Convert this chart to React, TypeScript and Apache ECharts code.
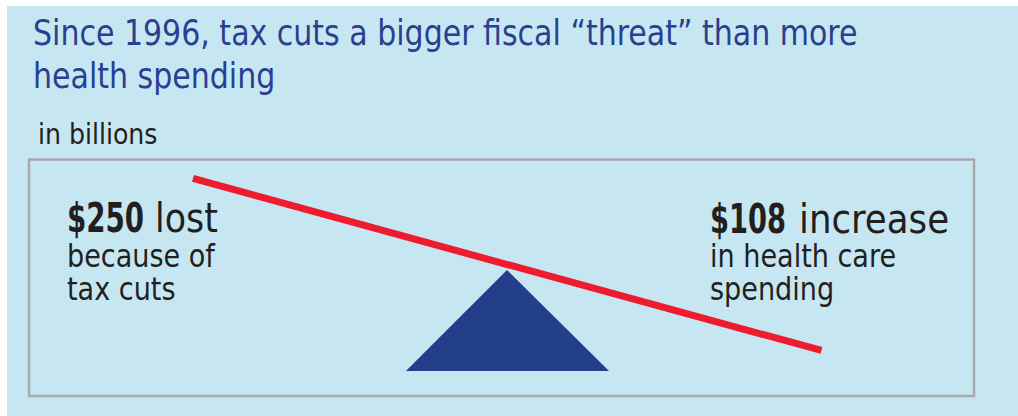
import React, { useEffect, useRef } from "react";
import * as echarts from "echarts";

const titleLines = ["Since 1996, tax cuts a bigger fiscal “threat” than more", "health spending"];
const unitLabel = "in billions";
const amounts = [250, 108];
const amountWords = ["lost", "increase"];
const descLines = [
  ["because of", "tax cuts"],
  ["in health care", "spending"],
];
// beam (seesaw plank) end points, in a 0-100 space across the inner box
const beamX = [17.35, 83.86];
const beamY = [91.97, 19.24];
// fulcrum triangle vertices
const fulcrumX = [39.89, 50.58, 61.38];
const fulcrumY = [10.57, 53.28, 10.57];

const FONT = "'Liberation Sans Narrow', 'DejaVu Sans Condensed', 'Roboto', sans-serif";
const DARK = "#231f20";
const BLUE = "#2a3f8f";

function txt(x: number, baseline: number, size: number, text: string, opts: any = {}) {
  return {
    type: "text",
    x,
    y: baseline - 0.35 * size,
    scaleX: opts.sx || 1,
    style: {
      text,
      fontFamily: FONT,
      fontSize: size,
      lineHeight: opts.lh || size,
      fontWeight: opts.weight || "normal",
      fill: opts.color || DARK,
      verticalAlign: "middle",
      align: "left",
    },
    z: 10,
  };
}

function block(x: number, firstBaseline: number, size: number, lh: number, lines: string[], sx: number) {
  return {
    type: "text",
    x,
    y: firstBaseline - 0.35 * size - lh / 2,
    scaleX: sx,
    style: {
      text: lines.join("\n"),
      fontFamily: FONT,
      fontSize: size,
      lineHeight: lh,
      fill: DARK,
      verticalAlign: "top",
      align: "left",
    },
    z: 10,
  };
}

export default function App() {
  const ref = useRef<HTMLDivElement>(null);
  useEffect(() => {
    if (!ref.current) return;
    const chart = echarts.init(ref.current, undefined, { renderer: "svg" });
    const fulcrumData = fulcrumX.map((x, i) => [x, fulcrumY[i]]);
    chart.setOption({
      animation: false,
      backgroundColor: "#ffffff",
      grid: {
        left: 29,
        top: 159.5,
        right: 44,
        bottom: 20,
        show: true,
        borderColor: "#a7a9ac",
        borderWidth: 2.5,
        backgroundColor: "transparent",
        z: 3,
      },
      xAxis: { type: "value", min: 0, max: 100, show: false },
      yAxis: { type: "value", min: 0, max: 100, show: false },
      graphic: [
        { type: "rect", shape: { x: 7, y: 6, width: 1011, height: 410 }, style: { fill: "#c6e7f2" }, z: -10, silent: true },
        txt(33, 45, 36, titleLines[0], { color: BLUE, sx: 0.927 }),
        txt(33, 88, 36, titleLines[1], { color: BLUE, sx: 0.927 }),
        txt(38, 144, 28, unitLabel, { lh: 30 }),
        txt(67, 232, 40, "$" + amounts[0], { weight: "bold", sx: 0.77, lh: 30 }),
        txt(155, 232, 40, amountWords[0], { sx: 0.97, lh: 30 }),
        block(67, 267, 32, 33, descLines[0], 0.94),
        txt(710, 233, 40, "$" + amounts[1], { weight: "bold", sx: 0.76, lh: 30 }),
        txt(799, 233, 40, amountWords[1], { sx: 0.99, lh: 30 }),
        block(710, 267, 32, 33, descLines[1], 0.94),
      ],
      series: [
        {
          type: "custom",
          data: fulcrumData,
          z: 4,
          renderItem: (params: any, api: any) => {
            if (params.dataIndex !== 0) return null;
            return {
              type: "polygon",
              shape: { points: fulcrumData.map((p) => api.coord(p)) },
              style: { fill: "#233e8b" },
            };
          },
        },
        {
          type: "line",
          data: beamX.map((x, i) => [x, beamY[i]]),
          symbol: "none",
          z: 5,
          lineStyle: { color: "#ee1c2e", width: 7, cap: "butt" },
        },
      ],
    });
    return () => chart.dispose();
  }, []);
  return <div ref={ref} style={{ position: "absolute", left: 0, top: 0, width: 1018, height: 416 }} />;
}
